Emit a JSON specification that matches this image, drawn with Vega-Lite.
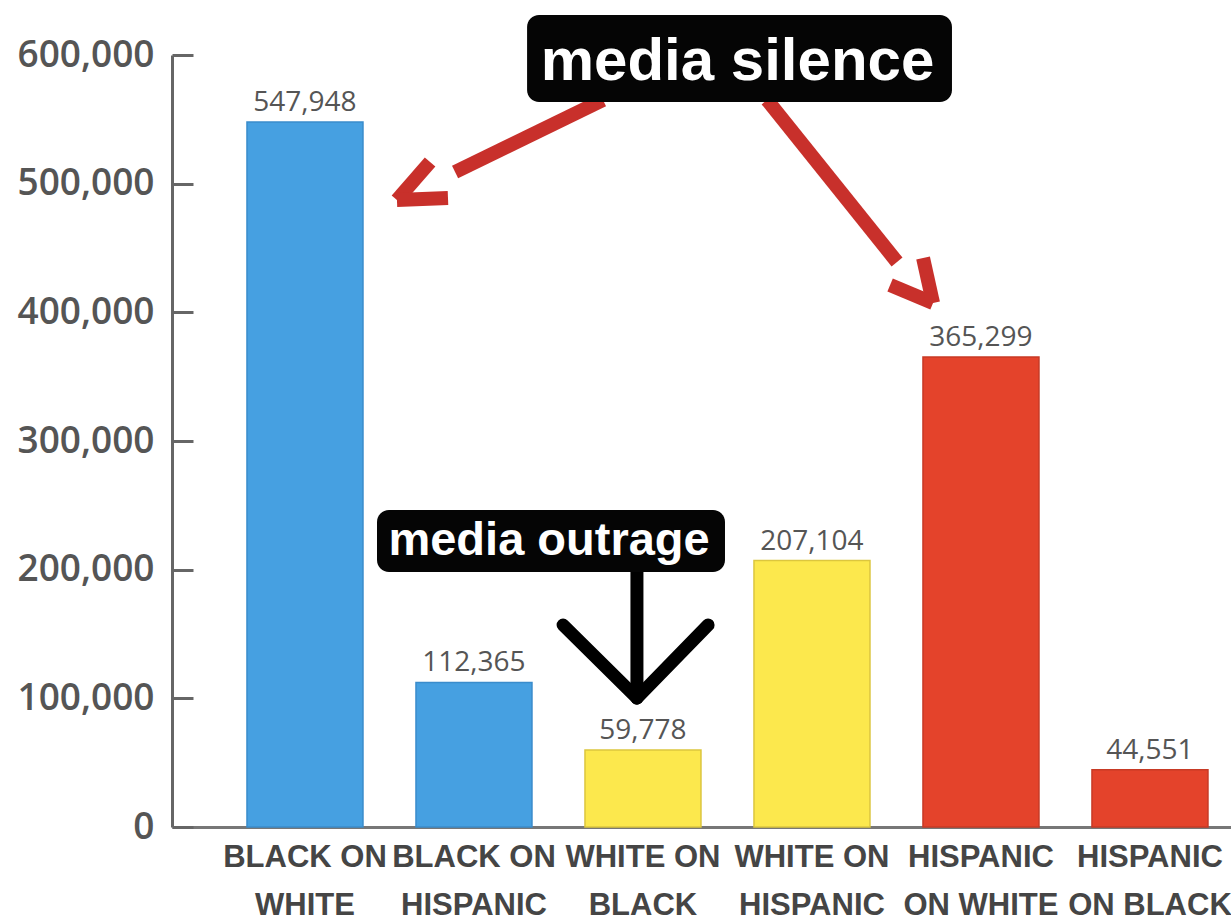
{
  "$schema": "https://vega.github.io/schema/vega-lite/v6.json",
  "width": 1059,
  "height": 772,
  "autosize": {"type": "none"},
  "padding": {"left": 172, "top": 55, "right": 0, "bottom": 93},
  "background": "#ffffff",
  "config": {"view": {"stroke": null}},
  "datasets": {
    "bars": [
      {"cat": "BLACK ON|WHITE", "group": "black", "value": 547948},
      {"cat": "BLACK ON|HISPANIC", "group": "black", "value": 112365},
      {"cat": "WHITE ON|BLACK", "group": "white", "value": 59778},
      {"cat": "WHITE ON|HISPANIC", "group": "white", "value": 207104},
      {"cat": "HISPANIC|ON WHITE", "group": "hispanic", "value": 365299},
      {"cat": "HISPANIC|ON BLACK", "group": "hispanic", "value": 44551}
    ],
    "lines": [
      {"arrow": "silence", "part": "shaft1", "x": 1.763, "y": 565024, "x2": 0.888, "y2": 509066},
      {"arrow": "silence", "part": "head1a", "x": 0.740, "y": 516838, "x2": 0.544, "y2": 487304},
      {"arrow": "silence", "part": "head1b", "x": 0.544, "y": 487304, "x2": 0.846, "y2": 488859},
      {"arrow": "silence", "part": "shaft2", "x": 2.734, "y": 565024, "x2": 3.503, "y2": 439118},
      {"arrow": "silence", "part": "head2a", "x": 3.462, "y": 421242, "x2": 3.716, "y2": 407253},
      {"arrow": "silence", "part": "head2b", "x": 3.716, "y": 407253, "x2": 3.657, "y2": 442227}
    ],
    "blacklines": [
      {"arrow": "outrage", "part": "stem", "x": 1.964, "y": 198186, "x2": 1.964, "y2": 100259},
      {"arrow": "outrage", "part": "left", "x": 1.527, "y": 156994, "x2": 1.964, "y2": 100259},
      {"arrow": "outrage", "part": "right", "x": 2.385, "y": 156994, "x2": 1.964, "y2": 100259}
    ],
    "boxes": [
      {"label": "media silence", "x": 1.314, "x2": 3.828, "y": 631086, "y2": 563470, "tx": 2.559, "ty": 580568, "size": "big"},
      {"label": "media outrage", "x": 0.426, "x2": 2.485, "y": 246372, "y2": 198186, "tx": 1.444, "ty": 211398, "size": "small"}
    ]
  },
  "layer": [
    {
      "data": {"name": "bars"},
      "encoding": {
        "x": {
          "field": "cat",
          "type": "nominal",
          "sort": null,
          "scale": {"paddingInner": 0.3136, "paddingOuter": 0.29, "align": 0.765},
          "axis": {
            "title": null,
            "labelAngle": 0,
            "ticks": false,
            "domainColor": "#777777",
            "domainWidth": 3,
            "labelExpr": "split(datum.label, '|')",
            "labelFont": "Liberation Sans",
            "labelFontWeight": "bold",
            "labelFontSize": 31,
            "labelColor": "#454545",
            "labelLineHeight": 48,
            "labelBaseline": "top",
            "labelPadding": 15,
            "labelLimit": 0,
            "labelOverlap": false
          }
        },
        "y": {
          "field": "value",
          "type": "quantitative",
          "title": null,
          "scale": {"domain": [0, 600000], "nice": false, "zero": true},
          "axis": {
            "title": null,
            "values": [0, 100000, 200000, 300000, 400000, 500000, 600000],
            "labelExpr": "format(datum.value, ',')",
            "grid": false,
            "domainColor": "#666666",
            "domainWidth": 3,
            "ticks": false,
            "labelPadding": 18,
            "labelFont": "Open Sans",
            "labelFontSize": 37,
            "labelFontWeight": 600,
            "labelColor": "#555555"
          }
        }
      },
      "layer": [
        {
          "mark": {"type": "bar", "strokeWidth": 1.5},
          "encoding": {
            "color": {
              "field": "group",
              "type": "nominal",
              "scale": {"domain": ["black", "white", "hispanic"], "range": ["#46a0e1", "#fce84d", "#e4432b"]},
              "legend": null
            },
            "stroke": {
              "field": "group",
              "type": "nominal",
              "scale": {"domain": ["black", "white", "hispanic"], "range": ["#3a8ccc", "#dcc63e", "#c73a25"]},
              "legend": null
            }
          }
        },
        {
          "mark": {"type": "text", "baseline": "alphabetic", "dy": -11, "font": "Open Sans", "fontSize": 28, "color": "#555555"},
          "encoding": {
            "text": {"field": "value", "type": "quantitative", "format": ","}
          }
        }
      ]
    },
    {
      "encoding": {
        "y": {
          "field": "y",
          "type": "quantitative",
          "title": null,
          "axis": {
            "title": null,
            "orient": "right",
            "offset": -1059,
            "values": [0, 100000, 200000, 300000, 400000, 500000, 600000],
            "labels": false,
            "domain": false,
            "grid": false,
            "ticks": true,
            "tickSize": 21,
            "tickWidth": 3,
            "tickColor": "#666666"
          }
        }
      },
      "layer": [
        {
          "data": {"name": "lines"},
          "mark": {"type": "rule", "color": "#c8302b", "strokeWidth": 14, "strokeCap": "butt"},
          "encoding": {
            "x": {"field": "x", "type": "quantitative", "scale": {"domain": [-0.787, 5.479], "nice": false, "zero": false}, "axis": null},
            "x2": {"field": "x2"},
            "y2": {"field": "y2"}
          }
        },
        {
          "data": {"name": "blacklines"},
          "mark": {"type": "rule", "color": "#000000", "strokeWidth": 13, "strokeCap": "round"},
          "encoding": {
            "x": {"field": "x", "type": "quantitative", "scale": {"domain": [-0.787, 5.479], "nice": false, "zero": false}, "axis": null},
            "x2": {"field": "x2"},
            "y2": {"field": "y2"}
          }
        },
        {
          "data": {"name": "boxes"},
          "mark": {"type": "rect", "color": "#050505", "cornerRadius": 12},
          "encoding": {
            "x": {"field": "x", "type": "quantitative", "scale": {"domain": [-0.787, 5.479], "nice": false, "zero": false}, "axis": null},
            "x2": {"field": "x2"},
            "y2": {"field": "y2"}
          }
        },
        {
          "data": {"name": "boxes"},
          "mark": {"type": "text", "font": "Liberation Sans", "fontWeight": "bold", "color": "#ffffff", "baseline": "alphabetic", "align": "center"},
          "encoding": {
            "x": {"field": "tx", "type": "quantitative", "scale": {"domain": [-0.787, 5.479], "nice": false, "zero": false}, "axis": null},
            "y": {"field": "ty", "type": "quantitative", "title": null},
            "text": {"field": "label"},
            "size": {"field": "size", "type": "nominal", "scale": {"domain": ["big", "small"], "range": [60, 47]}, "legend": null}
          }
        }
      ]
    }
  ],
  "resolve": {"scale": {"x": "independent"}, "axis": {"y": "independent"}}
}
